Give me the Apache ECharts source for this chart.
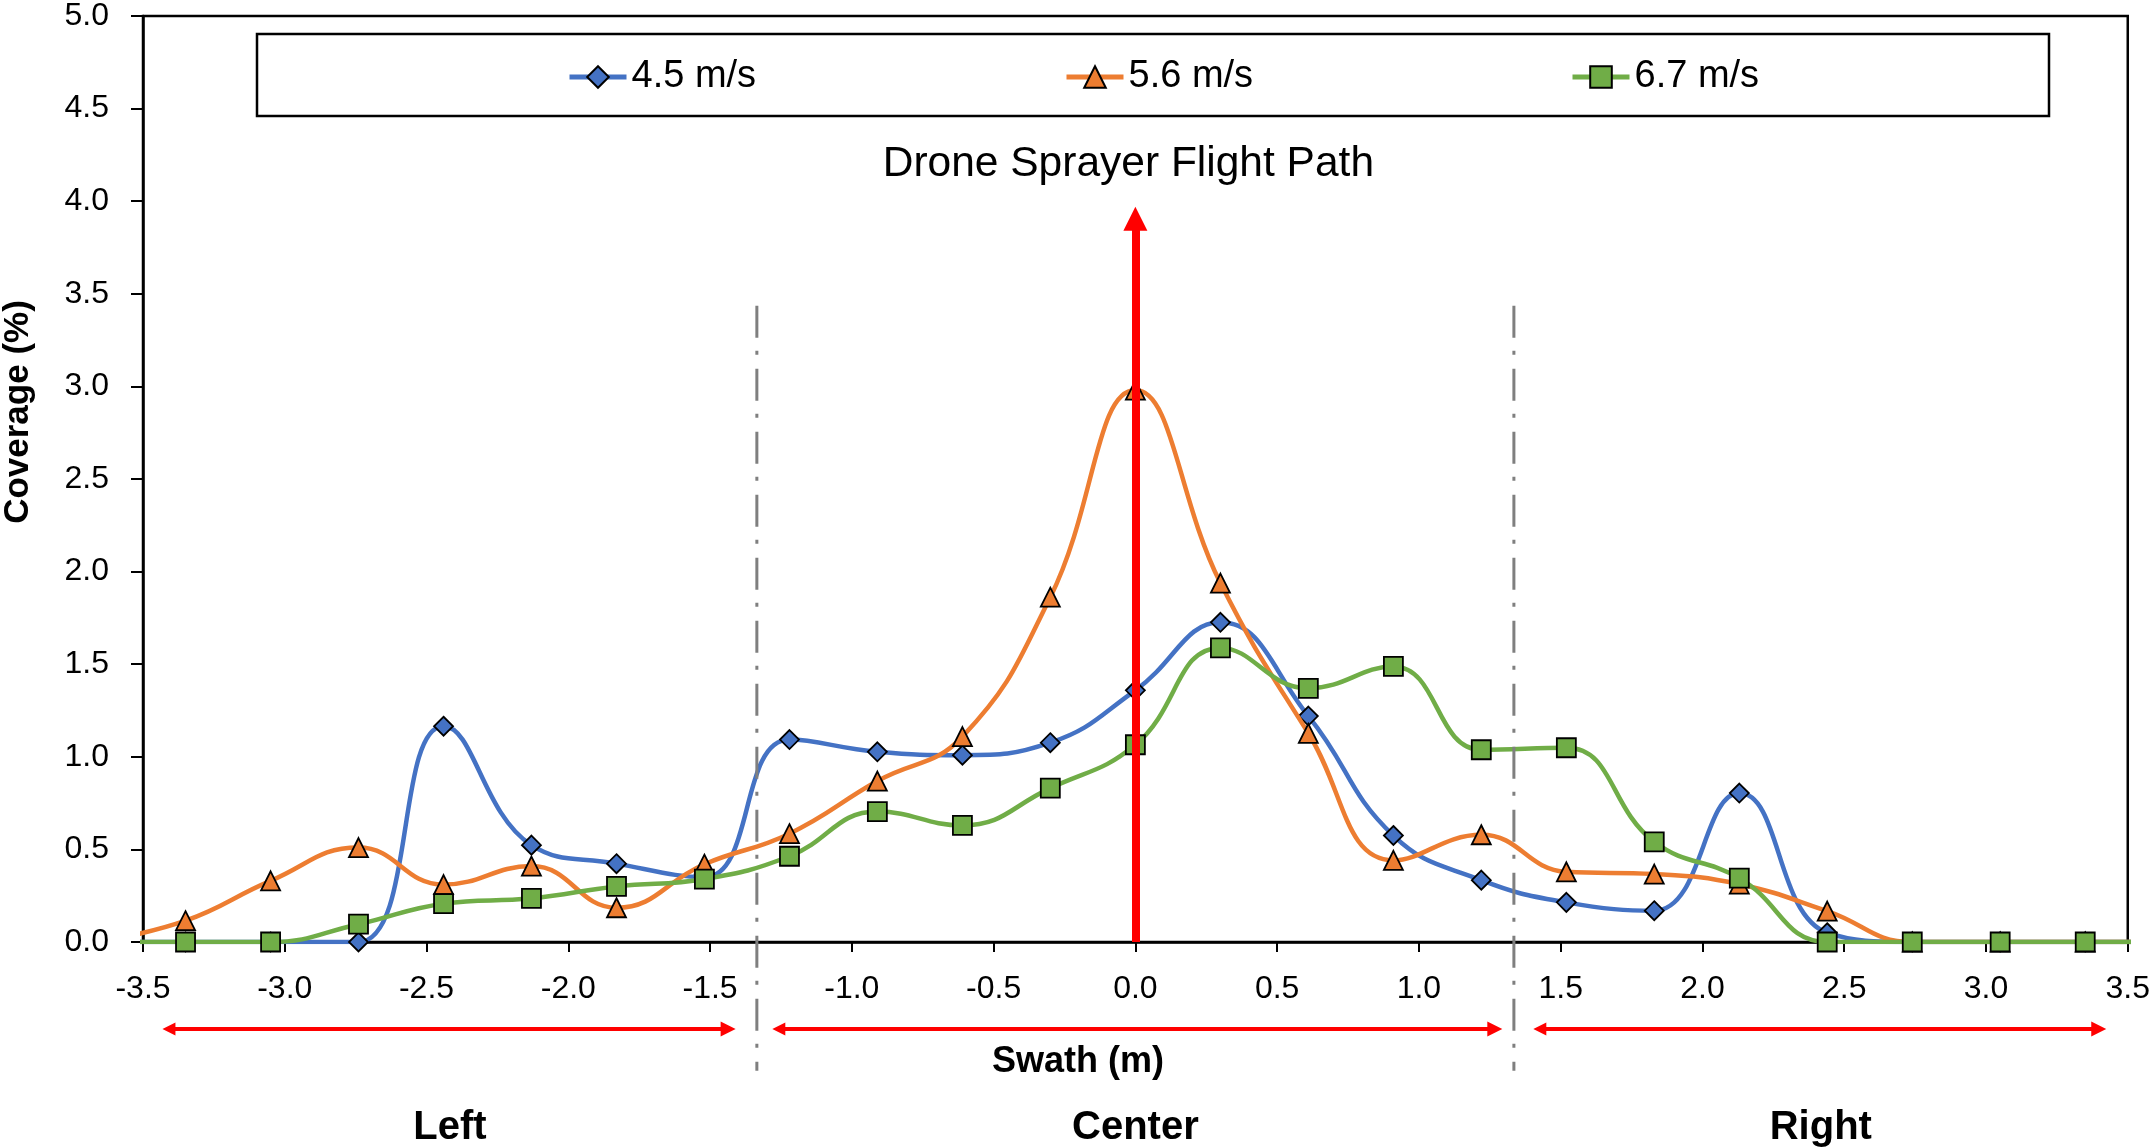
<!DOCTYPE html>
<html><head><meta charset="utf-8">
<script src="https://cdn.jsdelivr.net/npm/echarts@6/dist/echarts.min.js"></script>
<style>html,body{margin:0;padding:0;background:#fff}#c{width:2153px;height:1148px}</style>
</head><body><div id="c"></div>
<script>
// ---- data ----
const swath = [-3.66, -3.35, -3.05, -2.74, -2.44, -2.13, -1.83, -1.52, -1.22, -0.91, -0.61, -0.30, 0.00,
               0.30, 0.61, 0.91, 1.22, 1.52, 1.83, 2.13, 2.44, 2.74, 3.05, 3.35, 3.66];
const cov45 = [0, 0, 0, 0, 1.165, 0.523, 0.423, 0.35, 1.093, 1.027, 1.009, 1.076, 1.359,
               1.726, 1.22, 0.575, 0.334, 0.214, 0.169, 0.804, 0.05, 0, 0, 0, 0];
const cov56 = [0, 0.115, 0.33, 0.51, 0.31, 0.41, 0.185, 0.42, 0.585, 0.869, 1.109, 1.862, 2.98,
               1.938, 1.127, 0.441, 0.579, 0.379, 0.367, 0.312, 0.167, 0, 0, 0, 0];
const cov67 = [0, 0, 0, 0.096, 0.207, 0.236, 0.30, 0.34, 0.463, 0.704, 0.630, 0.831, 1.065,
               1.588, 1.37, 1.488, 1.038, 1.049, 0.541, 0.345, 0, 0, 0, 0, 0];
const seriesNames = ['4.5 m/s', '5.6 m/s', '6.7 m/s'];
const xRange = [-3.5, 3.5];
const yRange = [0, 5];
const tickStep = 0.5;
const zoneBoundaries = [-1.335, 1.335];
const boundarySpan = [3.435, -0.695];
const zoneLabels = ['Left', 'Center', 'Right'];
const zoneArrows = [[-3.435, -1.41], [-1.284, 1.294], [1.40, 3.424]];
const zoneArrowLevel = -0.47;
const flightPath = [0, 3.97];
const flightPathLabel = 'Drone Sprayer Flight Path';
const xTitle = 'Swath (m)';
const yTitle = 'Coverage (%)';

// ---- style ----
const FONT = '"Liberation Sans", Arial, sans-serif';
const colors = ['#4472C4', '#ED7D31', '#70AD47'];
const symbols = ['diamond', 'triangle', 'rect'];
const symSizes = [19, 19, 19];
const covs = [cov45, cov56, cov67];
const legendLefts = [567, 1064, 1570];

const chart = echarts.init(document.getElementById('c'));

const pxPerUnitX = (2132 - 143) / (xRange[1] - xRange[0]);
const hArrowHead = 15, vArrowHead = 24;

const dataSeries = seriesNames.map((n, i) => ({
  name: n, type: 'line', smooth: 0.45,
  data: swath.map((x, j) => [x, covs[i][j]]),
  symbol: symbols[i], symbolSize: symSizes[i], showAllSymbol: true,
  lineStyle: { color: colors[i], width: 4.5 },
  itemStyle: { color: colors[i], borderColor: '#000', borderWidth: 1.8 },
  z: 3 + i, clip: true, animation: false
}));

const boundarySeries = zoneBoundaries.map(b => ({
  type: 'line', data: [[b, boundarySpan[0]], [b, boundarySpan[1]]],
  symbol: 'none', clip: false, silent: true, animation: false, z: 10,
  lineStyle: { color: '#7f7f7f', width: 3, type: [32, 13, 4, 14] }
}));

const hOff = (hArrowHead / 2) / pxPerUnitX;
const zoneArrowSeries = {
  type: 'lines', coordinateSystem: 'cartesian2d', clip: false, silent: true, animation: false, z: 12,
  symbol: ['triangle', 'triangle'], symbolSize: [13, hArrowHead],
  lineStyle: { color: '#FF0000', width: 4, opacity: 1, curveness: 0 },
  data: zoneArrows.map(a => ({ coords: [[a[0] + hOff, zoneArrowLevel], [a[1] - hOff, zoneArrowLevel]] }))
};

const vOff = (vArrowHead / 2) / ((942 - 12) / (yRange[1] - yRange[0]));
const flightSeries = {
  type: 'lines', coordinateSystem: 'cartesian2d', clip: false, silent: true, animation: false, z: 14,
  symbol: ['none', 'triangle'], symbolSize: [24, vArrowHead],
  lineStyle: { color: '#FF0000', width: 8, opacity: 1, curveness: 0 },
  data: [{ coords: [[flightPath[0], 0], [flightPath[0], flightPath[1] - vOff]] }]
};

const axisCommon = {
  type: 'value', interval: tickStep,
  axisLine: { show: true, onZero: false, lineStyle: { color: '#000', width: 2.5 } },
  axisTick: { show: true, inside: false, lineStyle: { color: '#000', width: 2 } },
  splitLine: { show: false },
  axisLabel: { color: '#000', fontSize: 32, fontFamily: FONT, formatter: v => v.toFixed(1),
               showMinLabel: true, showMaxLabel: true }
};

chart.setOption({
  animation: false,
  backgroundColor: '#fff',
  grid: { left: 143, right: 21, top: 12, bottom: 206, show: true, borderColor: '#000', borderWidth: 2.5 },
  xAxis: Object.assign({}, axisCommon, { min: xRange[0], max: xRange[1],
    axisTick: { show: true, length: 10, lineStyle: { color: '#000', width: 2 } },
    axisLabel: Object.assign({}, axisCommon.axisLabel, { margin: 31 }) }),
  yAxis: Object.assign({}, axisCommon, { min: yRange[0], max: yRange[1],
    axisTick: { show: true, length: 12, lineStyle: { color: '#000', width: 2 } },
    axisLabel: Object.assign({}, axisCommon.axisLabel, { margin: 34 }) }),
  legend: seriesNames.map((n, i) => ({
    data: [n], left: legendLefts[i], top: 58, orient: 'horizontal',
    itemWidth: 57, itemHeight: 27, itemGap: 0, padding: 0,
    lineStyle: { width: 5 },
    textStyle: { fontSize: 38, color: '#000', fontFamily: FONT }
  })),
  series: dataSeries.concat(boundarySeries, [zoneArrowSeries, flightSeries])
});

// annotations placed through the axes
const zoneEdges = [xRange[0]].concat(zoneBoundaries, [xRange[1]]);
const graphics = [
  { type: 'rect', shape: { x: 257, y: 34, width: 1792, height: 82 },
    style: { fill: 'none', stroke: '#000', lineWidth: 2.5 }, z: 1, silent: true },
  { type: 'text', x: chart.convertToPixel({ xAxisIndex: 0 }, flightPath[0]) - 7, y: 164,
    style: { text: flightPathLabel, fill: '#000', font: '42.5px ' + FONT, textAlign: 'center', textVerticalAlign: 'middle', align: 'center', verticalAlign: 'middle' }, z: 20 },
  { type: 'text', x: 1078, y: 1062,
    style: { text: xTitle, fill: '#000', font: 'bold 36px ' + FONT, textAlign: 'center', textVerticalAlign: 'middle', align: 'center', verticalAlign: 'middle' }, z: 20 },
  { type: 'text', x: 18, y: 412, rotation: Math.PI / 2,
    style: { text: yTitle, fill: '#000', font: 'bold 35px ' + FONT, textAlign: 'center', textVerticalAlign: 'middle', align: 'center', verticalAlign: 'middle' }, z: 20 }
];
zoneLabels.forEach((lab, i) => {
  const mid = (zoneEdges[i] + zoneEdges[i + 1]) / 2;
  graphics.push({ type: 'text', x: chart.convertToPixel({ xAxisIndex: 0 }, mid), y: 1128,
    style: { text: lab, fill: '#000', font: 'bold 40px ' + FONT, textAlign: 'center', textVerticalAlign: 'middle', align: 'center', verticalAlign: 'middle' }, z: 20 });
});
chart.setOption({ graphic: graphics });
</script></body></html>
